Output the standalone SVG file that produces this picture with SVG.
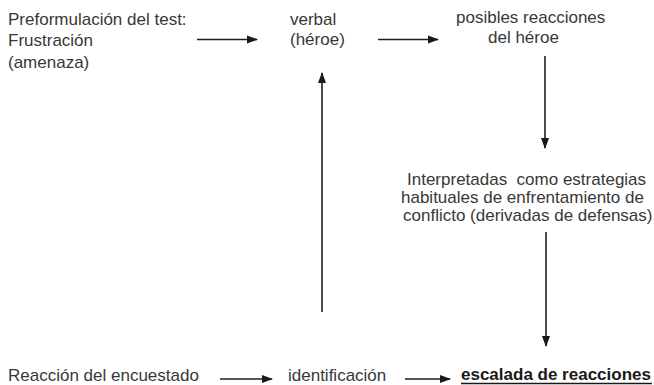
<svg xmlns="http://www.w3.org/2000/svg" width="654" height="385" viewBox="0 0 654 385">
<style>
text{font-family:"Liberation Sans",Arial,sans-serif;font-size:17px;fill:#383838}
.b{font-weight:bold;fill:#1a1a1a}
.c{stroke:#1e1e1e;stroke-width:1.6;fill:none}
</style>
<defs>
<marker id="ah" markerUnits="userSpaceOnUse" markerWidth="11" markerHeight="11" viewBox="0 0 11 11" refX="10" refY="5.5" orient="auto">
<path d="M0,1.5 L11,5.5 L0,9.5 Z" fill="#1a1a1a"/>
</marker>
</defs>
<rect width="654" height="385" fill="#fff"/>
<g id="n-preformulacion">
<text x="8" y="25">Preformulación del test:</text>
<text x="8" y="46">Frustración</text>
<text x="8" y="68">(amenaza)</text>
</g>
<g id="n-verbal">
<text x="290" y="25">verbal</text>
<text x="290" y="45">(héroe)</text>
</g>
<g id="n-posibles">
<text x="456" y="23">posibles reacciones</text>
<text x="488" y="43">del héroe</text>
</g>
<g id="n-interpretadas">
<text x="407" y="185" xml:space="preserve">Interpretadas  como estrategias</text>
<text x="401" y="203">habituales de enfrentamiento de</text>
<text x="403" y="221">conflicto (derivadas de defensas)</text>
</g>
<g id="n-reaccion">
<text x="8" y="381">Reacción del encuestado</text>
</g>
<g id="n-identificacion">
<text x="288" y="381">identificación</text>
</g>
<g id="n-escalada">
<text class="b" x="461" y="380">escalada de reacciones</text>
<line x1="461" y1="383.5" x2="652" y2="383.5" stroke="#1a1a1a" stroke-width="1.4"/>
</g>
<g id="connectors">
<line class="c" x1="197" y1="39.5" x2="257" y2="39.5" marker-end="url(#ah)"/>
<line class="c" x1="378" y1="39.5" x2="438" y2="39.5" marker-end="url(#ah)"/>
<line class="c" x1="545" y1="56" x2="545" y2="148" marker-end="url(#ah)"/>
<line class="c" x1="546" y1="232" x2="546" y2="346" marker-end="url(#ah)"/>
<line class="c" x1="322" y1="312" x2="322" y2="73" marker-end="url(#ah)"/>
<line class="c" x1="220" y1="379" x2="272" y2="379" marker-end="url(#ah)"/>
<line class="c" x1="405" y1="379" x2="450" y2="379" marker-end="url(#ah)"/>
</g>
</svg>
